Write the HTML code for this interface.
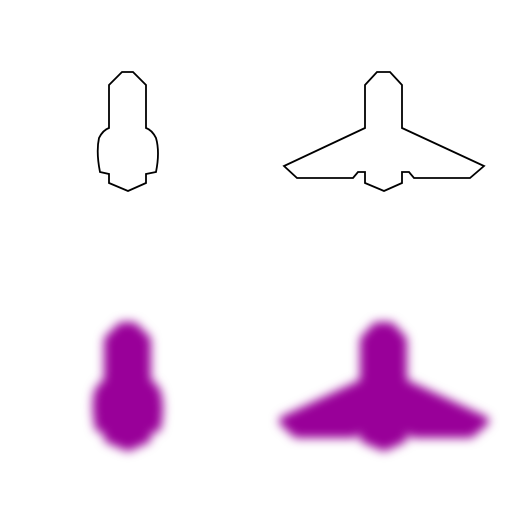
<!DOCTYPE html>
<html><head><meta charset="utf-8"><style>html,body{margin:0;padding:0;background:#fff}svg{display:block}</style></head>
<body>
<svg width="512" height="512" viewBox="0 0 512 512">
<defs>
<filter id="b" x="-30%" y="-30%" width="160%" height="160%"><feGaussianBlur stdDeviation="5"/></filter>
<path id="p1" d="M122,72 L133,72 L146,85 L146,128 Q152,130 156,138 Q160,152 156,172 L146,174 L146,183 L128,191 L109,183 L109,174 L100,172 Q96,152 99,138 Q103,130 109,128 L109,85 Z"/>
<path id="p2" d="M377,72 L390,72 L402,85 L402,128 L484,166 L470,178 L414,178 L409,172 L402,172 L402,183 L384,191 L365,183 L365,172 L358,172 L353,178 L297,178 L284,166 L365,128 L365,85 Z"/>
</defs>
<use href="#p1" fill="none" stroke="#000" stroke-width="1.8"/>
<use href="#p2" fill="none" stroke="#000" stroke-width="1.8"/>
<g filter="url(#b)" transform="translate(0,255)">
<use href="#p1" fill="#990099" stroke="#990099" stroke-width="10" stroke-linejoin="round"/>
<use href="#p2" fill="#990099" stroke="#990099" stroke-width="10" stroke-linejoin="round"/>
</g>
</svg>
</body></html>
